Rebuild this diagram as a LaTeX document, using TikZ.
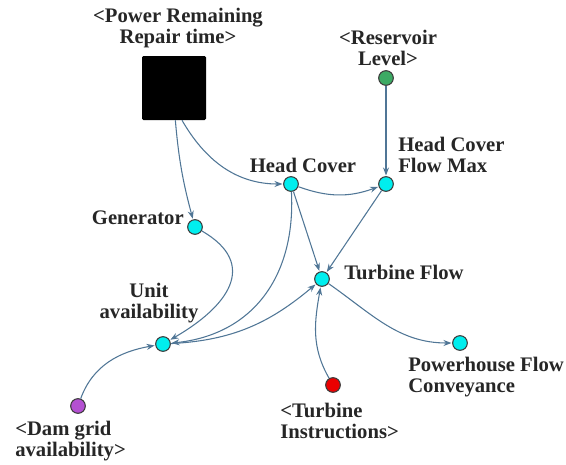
\documentclass[tikz,border=0pt]{standalone}
\usepackage{fontspec}
\setmainfont{Liberation Serif}
\usetikzlibrary{arrows.meta}
\definecolor{vcyan}{RGB}{0,238,238}
\definecolor{vgreen}{RGB}{60,170,100}
\definecolor{vpurple}{RGB}{180,80,210}
\definecolor{vred}{RGB}{235,0,0}
\definecolor{arrcol}{RGB}{80,118,150}
\definecolor{rimcol}{RGB}{60,60,60}
\begin{document}
\begin{tikzpicture}[x=0.75pt,y=-0.75pt,
  var/.style={circle,draw=rimcol,line width=0.8pt,inner sep=0pt,minimum size=11pt},
  lbl/.style={font=\bfseries\fontsize{15.5}{16}\selectfont,inner sep=0pt,text=black!85},
  arr/.style={draw=arrcol,line width=0.8pt,-{Stealth[length=6pt,width=4.5pt]},shorten >=0.5pt}]
\useasboundingbox (0,0) rectangle (566,464);
% nodes
\node[fill=black,minimum size=48pt,inner sep=0pt,rounded corners=1pt] (sq) at (174,88) {};
\node[lbl,align=center] (sqlbl) at (178,28) {<Power Remaining\\Repair time>};
\node[var,fill=vcyan] (gen) at (195,227) {};
\node[lbl,anchor=east] (genlbl) at (184,218) {Generator};
\node[var,fill=vcyan] (hc) at (291,184) {};
\node[lbl] (hclbl) at (303,165) {Head Cover};
\node[var,fill=vcyan] (hcfm) at (386,184) {};
\node[lbl,align=left,anchor=west] (hcfmlbl) at (398,155) {Head Cover\\Flow Max};
\node[var,fill=vgreen] (res) at (386,78) {};
\node[lbl,align=center] (reslbl) at (388,48) {<Reservoir\\Level>};
\node[var,fill=vcyan] (tf) at (322,279) {};
\node[lbl,anchor=west] (tflbl) at (344,272) {Turbine Flow};
\node[var,fill=vcyan] (ua) at (163,344) {};
\node[lbl,align=center] (ualbl) at (149,303) {Unit\\availability};
\node[var,fill=vpurple] (dg) at (78,406) {};
\node[lbl,align=left,anchor=west] (dglbl) at (15,441) {<Dam grid\\availability>};
\node[var,fill=vred] (ti) at (333,385) {};
\node[lbl,align=left,anchor=west] (tilbl) at (280,421) {<Turbine\\Instructions>};
\node[var,fill=vcyan] (ph) at (460,343) {};
\node[lbl,align=left,anchor=west] (phlbl) at (408,377) {Powerhouse Flow\\Conveyance};
% connectors
\draw[arr] ([xshift=1pt]sq.south) to[out=-85,in=105] (gen);
\draw[arr] ([xshift=6pt]sq.south) to[out=-60,in=180] (hc);
\draw[arr] (res) -- (hcfm);
\draw[arr] (hc) to[out=-20,in=200] (hcfm);
\draw[arr] (hc) -- (tf);
\draw[arr] (hcfm) -- (tf);
\draw[arr] (hc) to[out=-87,in=6,looseness=1.1] (ua);
\draw[arr] (gen) to[out=-30,in=30,looseness=1.5] (ua);
\draw[arr] (ua) to[out=3,in=-140] (tf);
\draw[arr] (ti) to[out=120,in=-100] (tf);
\draw[arr] (tf) to[out=-35,in=180] (ph);
\draw[arr] (dg) to[out=70,in=190] (ua);
\end{tikzpicture}
\end{document}
